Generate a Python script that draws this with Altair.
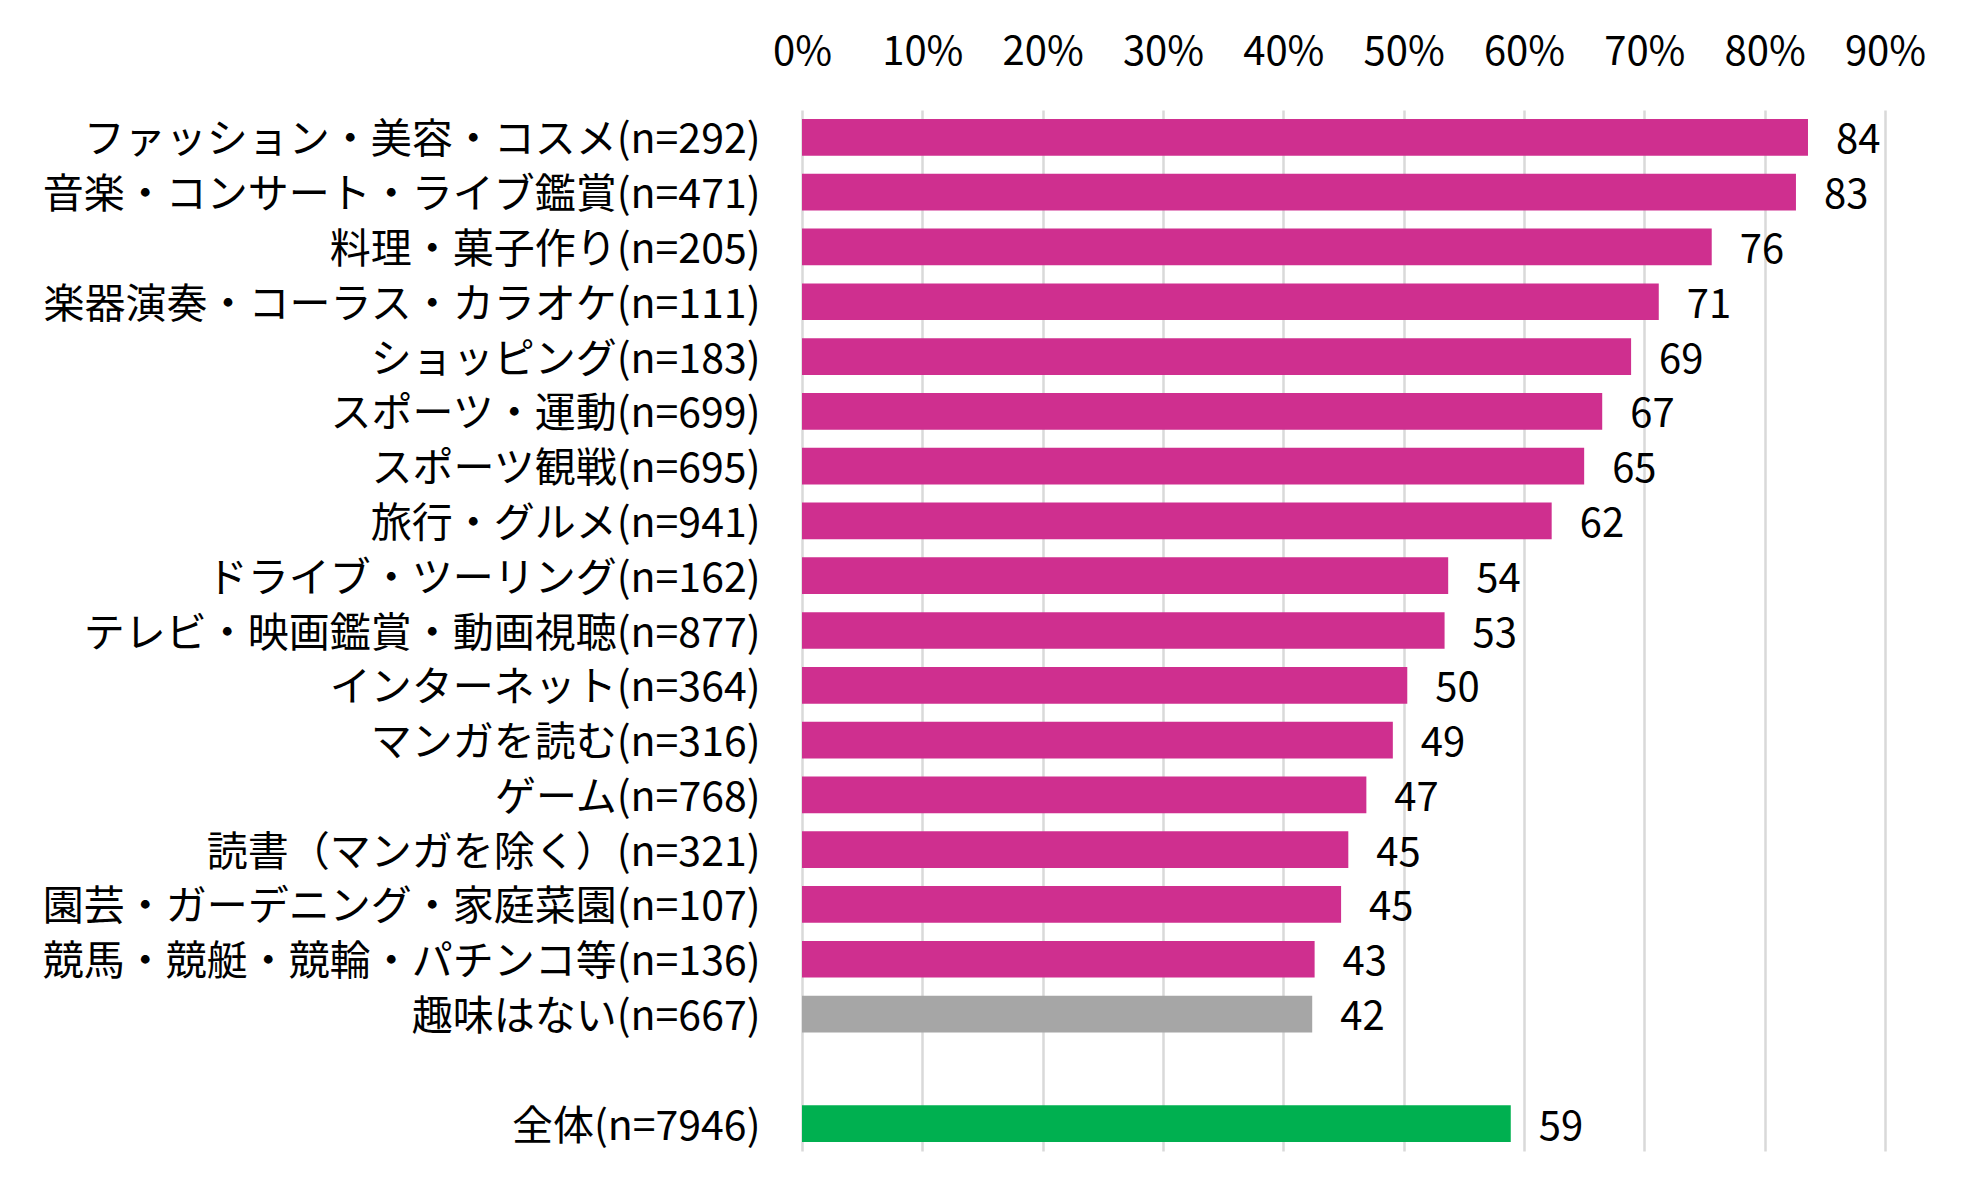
import altair as alt
import pandas as pd

# hobby categories (top to bottom) and share in percent
categories = [
    "ファッション・美容・コスメ(n=292)",
    "音楽・コンサート・ライブ鑑賞(n=471)",
    "料理・菓子作り(n=205)",
    "楽器演奏・コーラス・カラオケ(n=111)",
    "ショッピング(n=183)",
    "スポーツ・運動(n=699)",
    "スポーツ観戦(n=695)",
    "旅行・グルメ(n=941)",
    "ドライブ・ツーリング(n=162)",
    "テレビ・映画鑑賞・動画視聴(n=877)",
    "インターネット(n=364)",
    "マンガを読む(n=316)",
    "ゲーム(n=768)",
    "読書（マンガを除く）(n=321)",
    "園芸・ガーデニング・家庭菜園(n=107)",
    "競馬・競艇・競輪・パチンコ等(n=136)",
    "趣味はない(n=667)",
    "全体(n=7946)",
]
pct = [83.6, 82.6, 75.6, 71.2, 68.9, 66.5, 65.0, 62.3, 53.7,
       53.4, 50.3, 49.1, 46.9, 45.4, 44.8, 42.6, 42.4, 58.9]
groups = ["hobby"] * 16 + ["none", "total"]

x_ticks = [0, 10, 20, 30, 40, 50, 60, 70, 80, 90]
spacer = " "
y_order = categories[:-1] + [spacer] + categories[-1:]

FONT = "Noto Sans CJK JP"

df = pd.DataFrame({"category": categories, "pct": pct, "group": groups})

base = alt.Chart(df).encode(
    y=alt.Y(
        "category:N",
        sort=y_order,
        scale=alt.Scale(domain=y_order, paddingInner=0.33, paddingOuter=0.165),
        axis=alt.Axis(
            title=None, domain=False, ticks=False, grid=False,
            labelFont=FONT, labelFontSize=41, labelColor="#000000",
            labelPadding=42, labelLimit=900, labelOffset=4,
        ),
    ),
)

bars = base.mark_bar().encode(
    x=alt.X(
        "pct:Q",
        scale=alt.Scale(domain=[0, 90], nice=False),
        axis=alt.Axis(
            orient="top", title=None, values=x_ticks,
            labelExpr="datum.value + '%'",
            domain=False, ticks=False, tickSize=0,
            labelFont=FONT, labelFontSize=40, labelColor="#000000",
            labelPadding=38, labelFlush=False,
            grid=True, gridColor="#D9D9D9", gridWidth=2.5,
        ),
    ),
    color=alt.Color(
        "group:N",
        scale=alt.Scale(domain=["hobby", "none", "total"],
                        range=["#CF2F8F", "#A6A6A6", "#00B050"]),
        legend=None,
    ),
)

labels = base.mark_text(
    align="left", baseline="middle", dx=28, dy=4,
    font=FONT, fontSize=40, color="#000000",
).encode(
    x=alt.X("pct:Q"),
    text=alt.Text("pct:Q", format=".0f"),
)

chart = (
    alt.layer(bars, labels)
    .properties(
        width=1083, height=1041,
        autosize=alt.AutoSizeParams(type="none"),
        padding={"left": 794, "top": 102, "right": 80, "bottom": 40},
        background="white",
    )
    .configure_view(stroke=None)
)

chart.save("out.html", embed_options={"renderer": "svg", "actions": False})
